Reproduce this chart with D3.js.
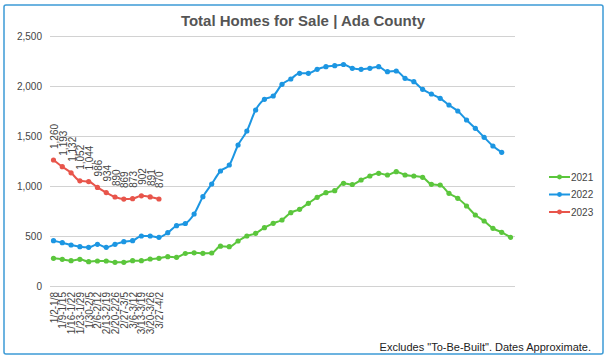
<!DOCTYPE html>
<html lang="en">
<head>
<meta charset="UTF-8">
<title>Total Homes for Sale | Ada County</title>
<style>
  body { margin: 0; background: #fff; }
  svg { display: block; font-family: "Liberation Sans", Arial, Helvetica, sans-serif; }
  .tick text { fill: #444; font-size: 10px; }
</style>
</head>
<body>
<svg id="CHART"></svg>
<script src="https://cdnjs.cloudflare.com/ajax/libs/d3/7.8.5/d3.min.js"></script>
<script>
// week labels (only the 2023 weeks are labelled on the axis)
const weeks = ["1/2-1/8", "1/9-1/15", "1/16-1/22", "1/23-1/29", "1/30-2/5", "2/6-2/12",
  "2/13-2/19", "2/20-2/26", "2/27-3/5", "3/6-3/12", "3/13-3/19", "3/20-3/26", "3/27-4/2"];

const homes2021 = [277, 267, 253, 267, 243, 250, 250, 237, 237, 253, 253, 270, 277, 293, 287,
  325, 332, 327, 330, 398, 393, 450, 500, 527, 583, 627, 660, 733, 767, 827, 887, 933, 953,
  1027, 1015, 1060, 1100, 1127, 1110, 1143, 1110, 1100, 1087, 1017, 1010, 927, 877, 800, 710,
  650, 577, 537, 487];

const homes2022 = [453, 433, 410, 393, 387, 417, 387, 417, 443, 453, 500, 500, 487, 533, 603,
  625, 720, 893, 1020, 1150, 1210, 1410, 1550, 1760, 1867, 1900, 2017, 2070, 2127, 2127, 2167,
  2193, 2203, 2215, 2177, 2167, 2177, 2193, 2143, 2150, 2077, 2043, 1967, 1920, 1877, 1810,
  1750, 1660, 1577, 1487, 1400, 1337];

const homes2023 = [1260, 1193, 1132, 1052, 1044, 986, 934, 890, 869, 873, 902, 891, 870];

const yTicks = [0, 500, 1000, 1500, 2000, 2500];

const series = [
  { name: "2021", values: homes2021, color: "#5bc63c" },
  { name: "2022", values: homes2022, color: "#1c96e2" },
  { name: "2023", values: homes2023, color: "#e8554b" }
];

const width = 609, height = 364;
const nWeeks = homes2021.length;

const svg = d3.select("#CHART")
  .attr("width", width)
  .attr("height", height);

// frame
svg.append("rect")
  .attr("x", 4).attr("y", 5)
  .attr("width", 599).attr("height", 349)
  .attr("rx", 2)
  .attr("fill", "none")
  .attr("stroke", "#3d9bd6")
  .attr("stroke-width", 1.5);

svg.append("text")
  .attr("x", 303).attr("y", 26)
  .attr("text-anchor", "middle")
  .attr("font-size", 15)
  .attr("font-weight", "bold")
  .attr("fill", "#555")
  .text("Total Homes for Sale | Ada County");

const x = d3.scalePoint()
  .domain(d3.range(nWeeks))
  .range([53.5, 510.5]);

const y = d3.scaleLinear()
  .domain([0, 2500])
  .range([286, 36]);

// y axis + gridlines
const yAxis = svg.append("g")
  .attr("transform", "translate(50,0)")
  .call(d3.axisLeft(y)
    .tickValues(yTicks)
    .tickFormat(d3.format(","))
    .tickSize(-465)
    .tickPadding(8));
yAxis.select(".domain").remove();
yAxis.selectAll(".tick line").attr("stroke", "#d2d2d2");

// x axis labels
const xAxis = svg.append("g")
  .attr("transform", "translate(0,290)")
  .call(d3.axisBottom(x)
    .tickValues(d3.range(weeks.length))
    .tickFormat(i => weeks[i])
    .tickSize(0));
xAxis.select(".domain").remove();
xAxis.selectAll(".tick text")
  .attr("text-anchor", "end")
  .attr("transform", "rotate(-90)")
  .attr("x", -2)
  .attr("y", 0)
  .attr("dy", "0.35em");

const line = d3.line()
  .x((d, i) => x(i))
  .y(d => y(d))
  .curve(d3.curveMonotoneX);

const g = svg.append("g");

series.forEach(s => {
  g.append("path")
    .datum(s.values)
    .attr("fill", "none")
    .attr("stroke", s.color)
    .attr("stroke-width", 2)
    .attr("d", line);

  g.selectAll(null)
    .data(s.values)
    .join("circle")
    .attr("cx", (d, i) => x(i))
    .attr("cy", d => y(d))
    .attr("r", 2.6)
    .attr("fill", s.color);
});

// 2023 data labels
g.selectAll(".lbl")
  .data(homes2023)
  .join("text")
  .attr("class", "lbl")
  .attr("transform", (d, i) => `translate(${x(i) + 1},${y(d) - 11}) rotate(-90)`)
  .attr("dy", "0.35em")
  .attr("font-size", 10)
  .attr("fill", "#444")
  .text(d => d3.format(",")(d));

// legend
const legend = svg.append("g")
  .selectAll("g")
  .data(series)
  .join("g")
  .attr("transform", (d, i) => `translate(549,${177 + i * 17.5})`);
legend.append("line")
  .attr("x1", 0).attr("x2", 21)
  .attr("stroke", d => d.color)
  .attr("stroke-width", 2);
legend.append("circle")
  .attr("cx", 10.5).attr("r", 2.4)
  .attr("fill", d => d.color);
legend.append("text")
  .attr("x", 22)
  .attr("dy", "0.35em")
  .attr("font-size", 10)
  .attr("fill", "#444")
  .text(d => d.name);

svg.append("text")
  .attr("x", 591).attr("y", 351)
  .attr("text-anchor", "end")
  .attr("font-size", 11)
  .attr("fill", "#222")
  .text("Excludes \"To-Be-Built\". Dates Approximate.");
</script>
</body>
</html>
